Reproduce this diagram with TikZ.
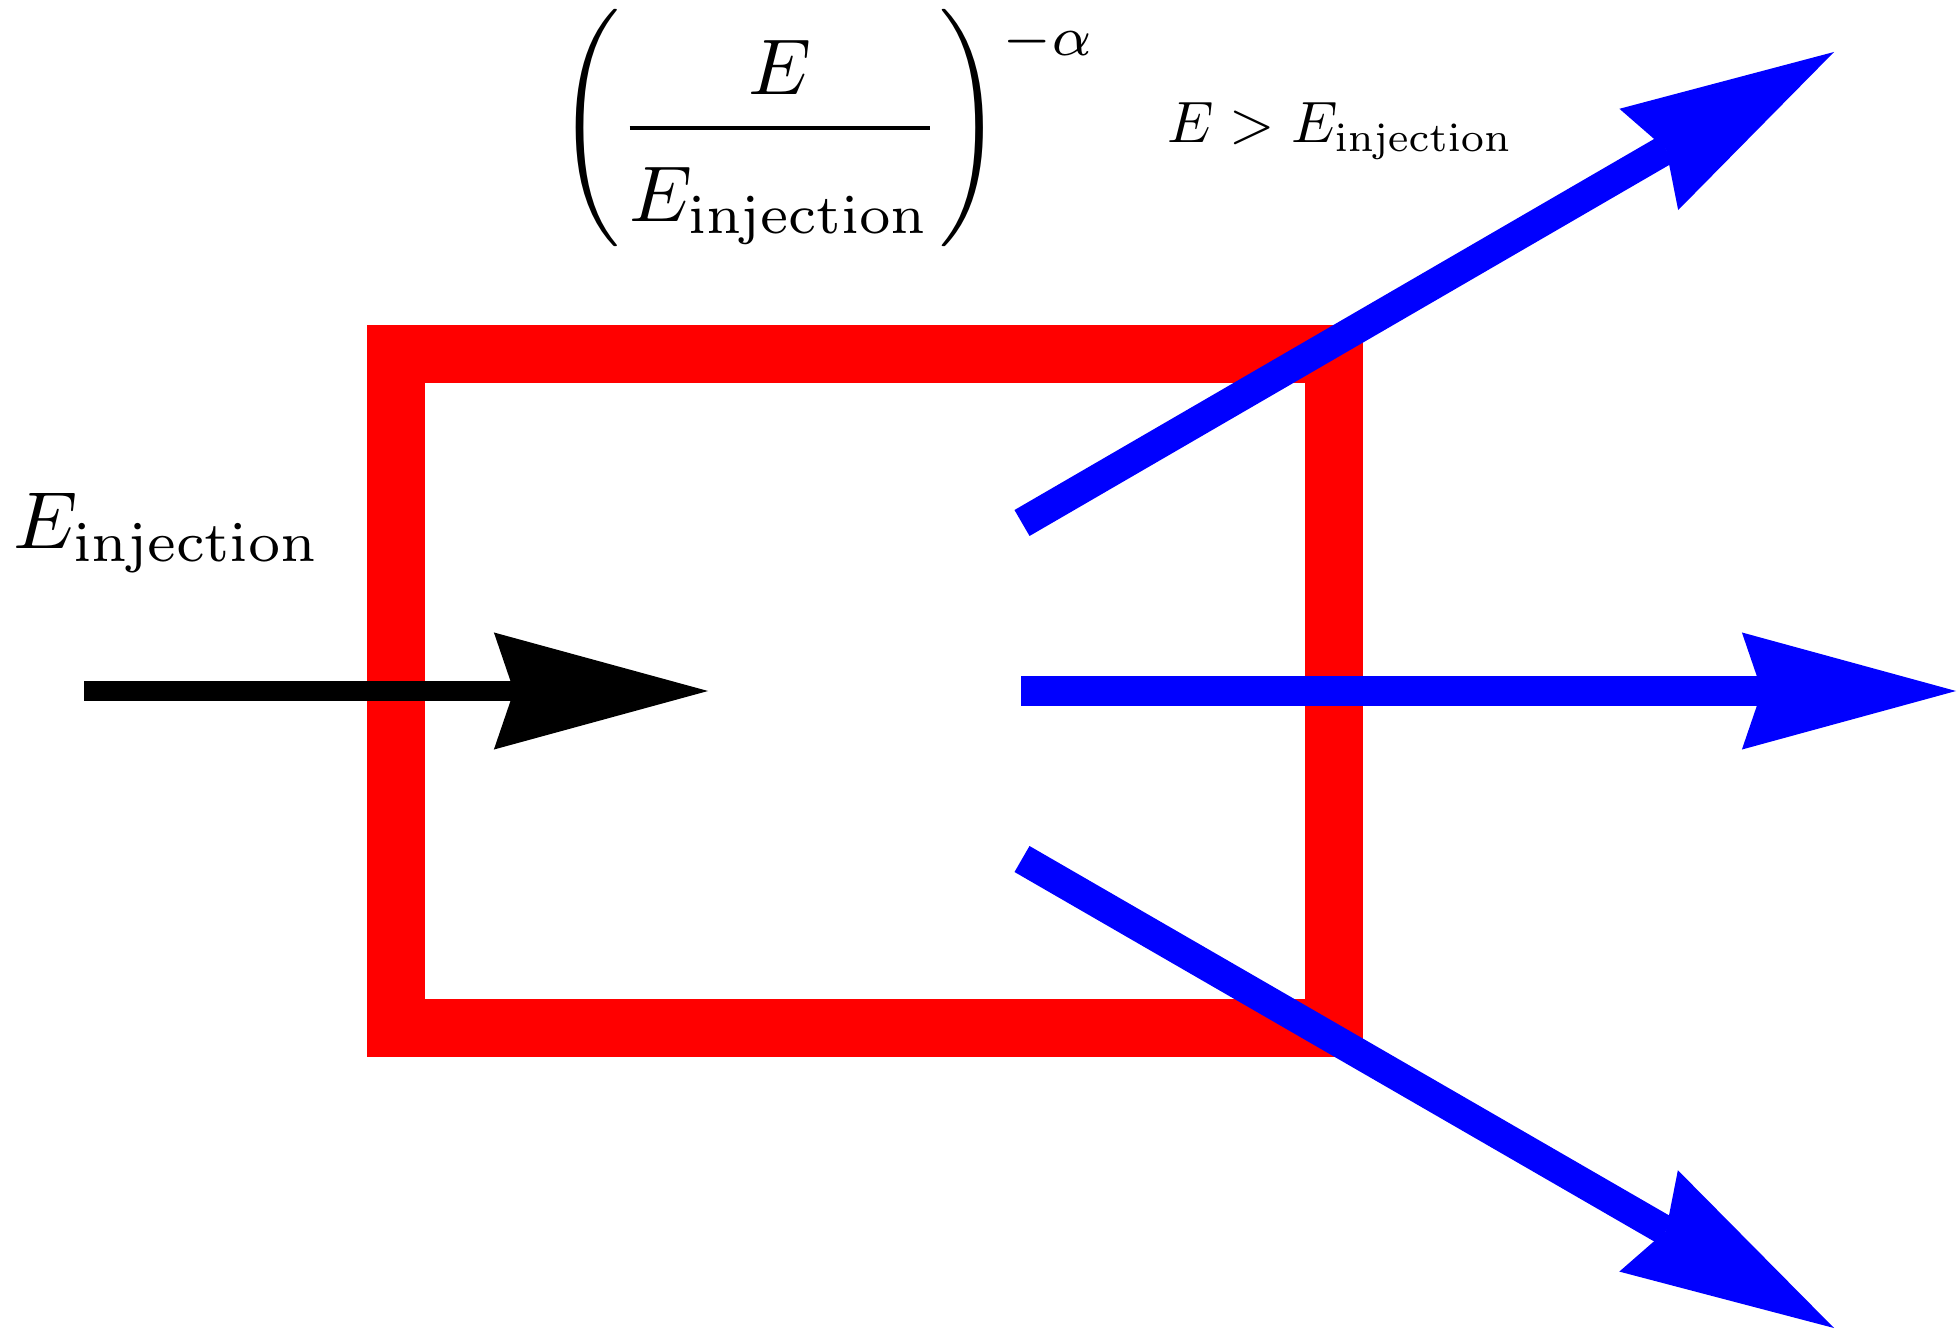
\documentclass[tikz,border=0pt]{standalone}
\usepackage{amsmath}
\usetikzlibrary{arrows.meta}
\definecolor{boxred}{RGB}{255,0,0}
\definecolor{arrblue}{RGB}{0,0,255}
\begin{document}
\begin{tikzpicture}[x=0.01cm,y=-0.01cm,
  head/.style={-{Stealth[length=2.14cm,width=1.17cm,inset=0.2cm,line width=0pt]}},
  inarrow/.style={head, line width=0.2cm, draw=black, fill=black},
  outarrow/.style={head, line width=0.3cm, draw=arrblue, fill=arrblue},
  lab/.style={inner sep=0pt, anchor=base west}]
\useasboundingbox (0,0) rectangle (1958,1331);
\node[draw=boxred, line width=0.58cm, minimum width=9.375cm, minimum height=6.735cm, inner sep=0pt, outer sep=0pt] (box) at (864.75,690.75) {};
\coordinate (inS) at (84,691);
\coordinate (inE) at (708,691);
\coordinate (upS) at (1022,523);
\coordinate (upE) at (1834,52);
\coordinate (midS) at (1021,691);
\coordinate (midE) at (1956,691);
\coordinate (loS) at (1022,859);
\coordinate (loE) at (1834,1328);
\draw[inarrow] (inS) -- (inE);
\draw[outarrow] (upS) -- (upE);
\draw[outarrow] (midS) -- (midE);
\draw[outarrow] (loS) -- (loE);
\node[lab, scale=2.3] (einj) at (12,549) {$E_{\mathrm{injection}}$};
\node[inner sep=0pt, anchor=west, scale=2.25] (spec) at (556,128) {$\displaystyle\Biggl(\frac{E}{\rule{0pt}{10.4pt}E_{\mathrm{injection}}}\Biggr)^{\raisebox{-3.4pt}{$\scriptstyle-\alpha$}}$};
\node[lab, scale=1.66] (cond) at (1166,143) {$E > E_{\mathrm{injection}}$};
\end{tikzpicture}
\end{document}
